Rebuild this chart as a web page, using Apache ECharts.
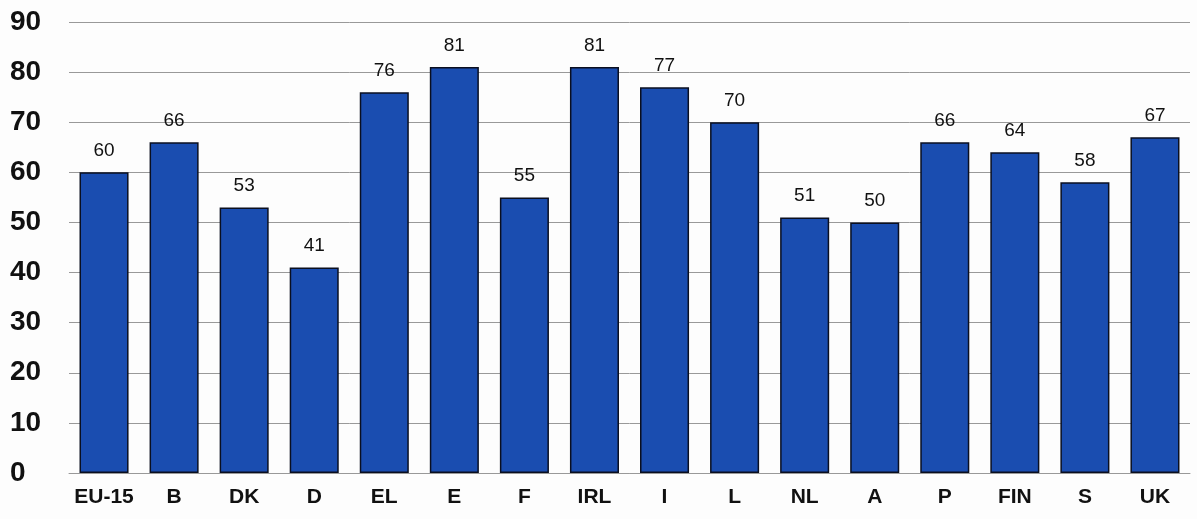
<!DOCTYPE html>
<html>
<head>
<meta charset="utf-8">
<script src="https://cdn.jsdelivr.net/npm/echarts@6/dist/echarts.min.js"></script>
<style>
  html, body { margin: 0; padding: 0; background: #fff; }
  #chart { width: 1197px; height: 519px; }
</style>
</head>
<body>
<div id="chart"></div>
<script>
var countries = ['EU-15', 'B', 'DK', 'D', 'EL', 'E', 'F', 'IRL', 'I', 'L', 'NL', 'A', 'P', 'FIN', 'S', 'UK'];
var values = [60, 66, 53, 41, 76, 81, 55, 81, 77, 70, 51, 50, 66, 64, 58, 67];

var chart = echarts.init(document.getElementById('chart'));
chart.setOption({
    backgroundColor: '#fdfdfd',
    animation: false,
    grid: { left: 69, right: 7, top: 22, bottom: 46 },
    xAxis: {
        type: 'category',
        data: countries,
        axisLine: { show: true, lineStyle: { color: '#999', width: 1 } },
        axisTick: { show: false },
        axisLabel: {
            interval: 0,
            color: '#111',
            fontFamily: 'Liberation Sans, Arial, sans-serif',
            fontWeight: 'bold',
            fontSize: 21,
            margin: 14
        }
    },
    yAxis: {
        type: 'value',
        min: 0,
        max: 90,
        interval: 10,
        axisLine: { show: false },
        axisTick: { show: false },
        splitLine: { lineStyle: { color: '#999', width: 1 } },
        axisLabel: {
            color: '#111',
            fontFamily: 'Liberation Sans, Arial, sans-serif',
            fontWeight: 'bold',
            fontSize: 28,
            align: 'left',
            margin: 59
        }
    },
    series: [{
        type: 'bar',
        data: values,
        barWidth: '70%',
        itemStyle: { color: '#1a4db0', borderColor: '#0a0f20', borderWidth: 1.5 },
        label: {
            show: true,
            position: 'top',
            distance: 12,
            color: '#111',
            fontFamily: 'Liberation Sans, Arial, sans-serif',
            fontSize: 19
        }
    }]
});
</script>
</body>
</html>
